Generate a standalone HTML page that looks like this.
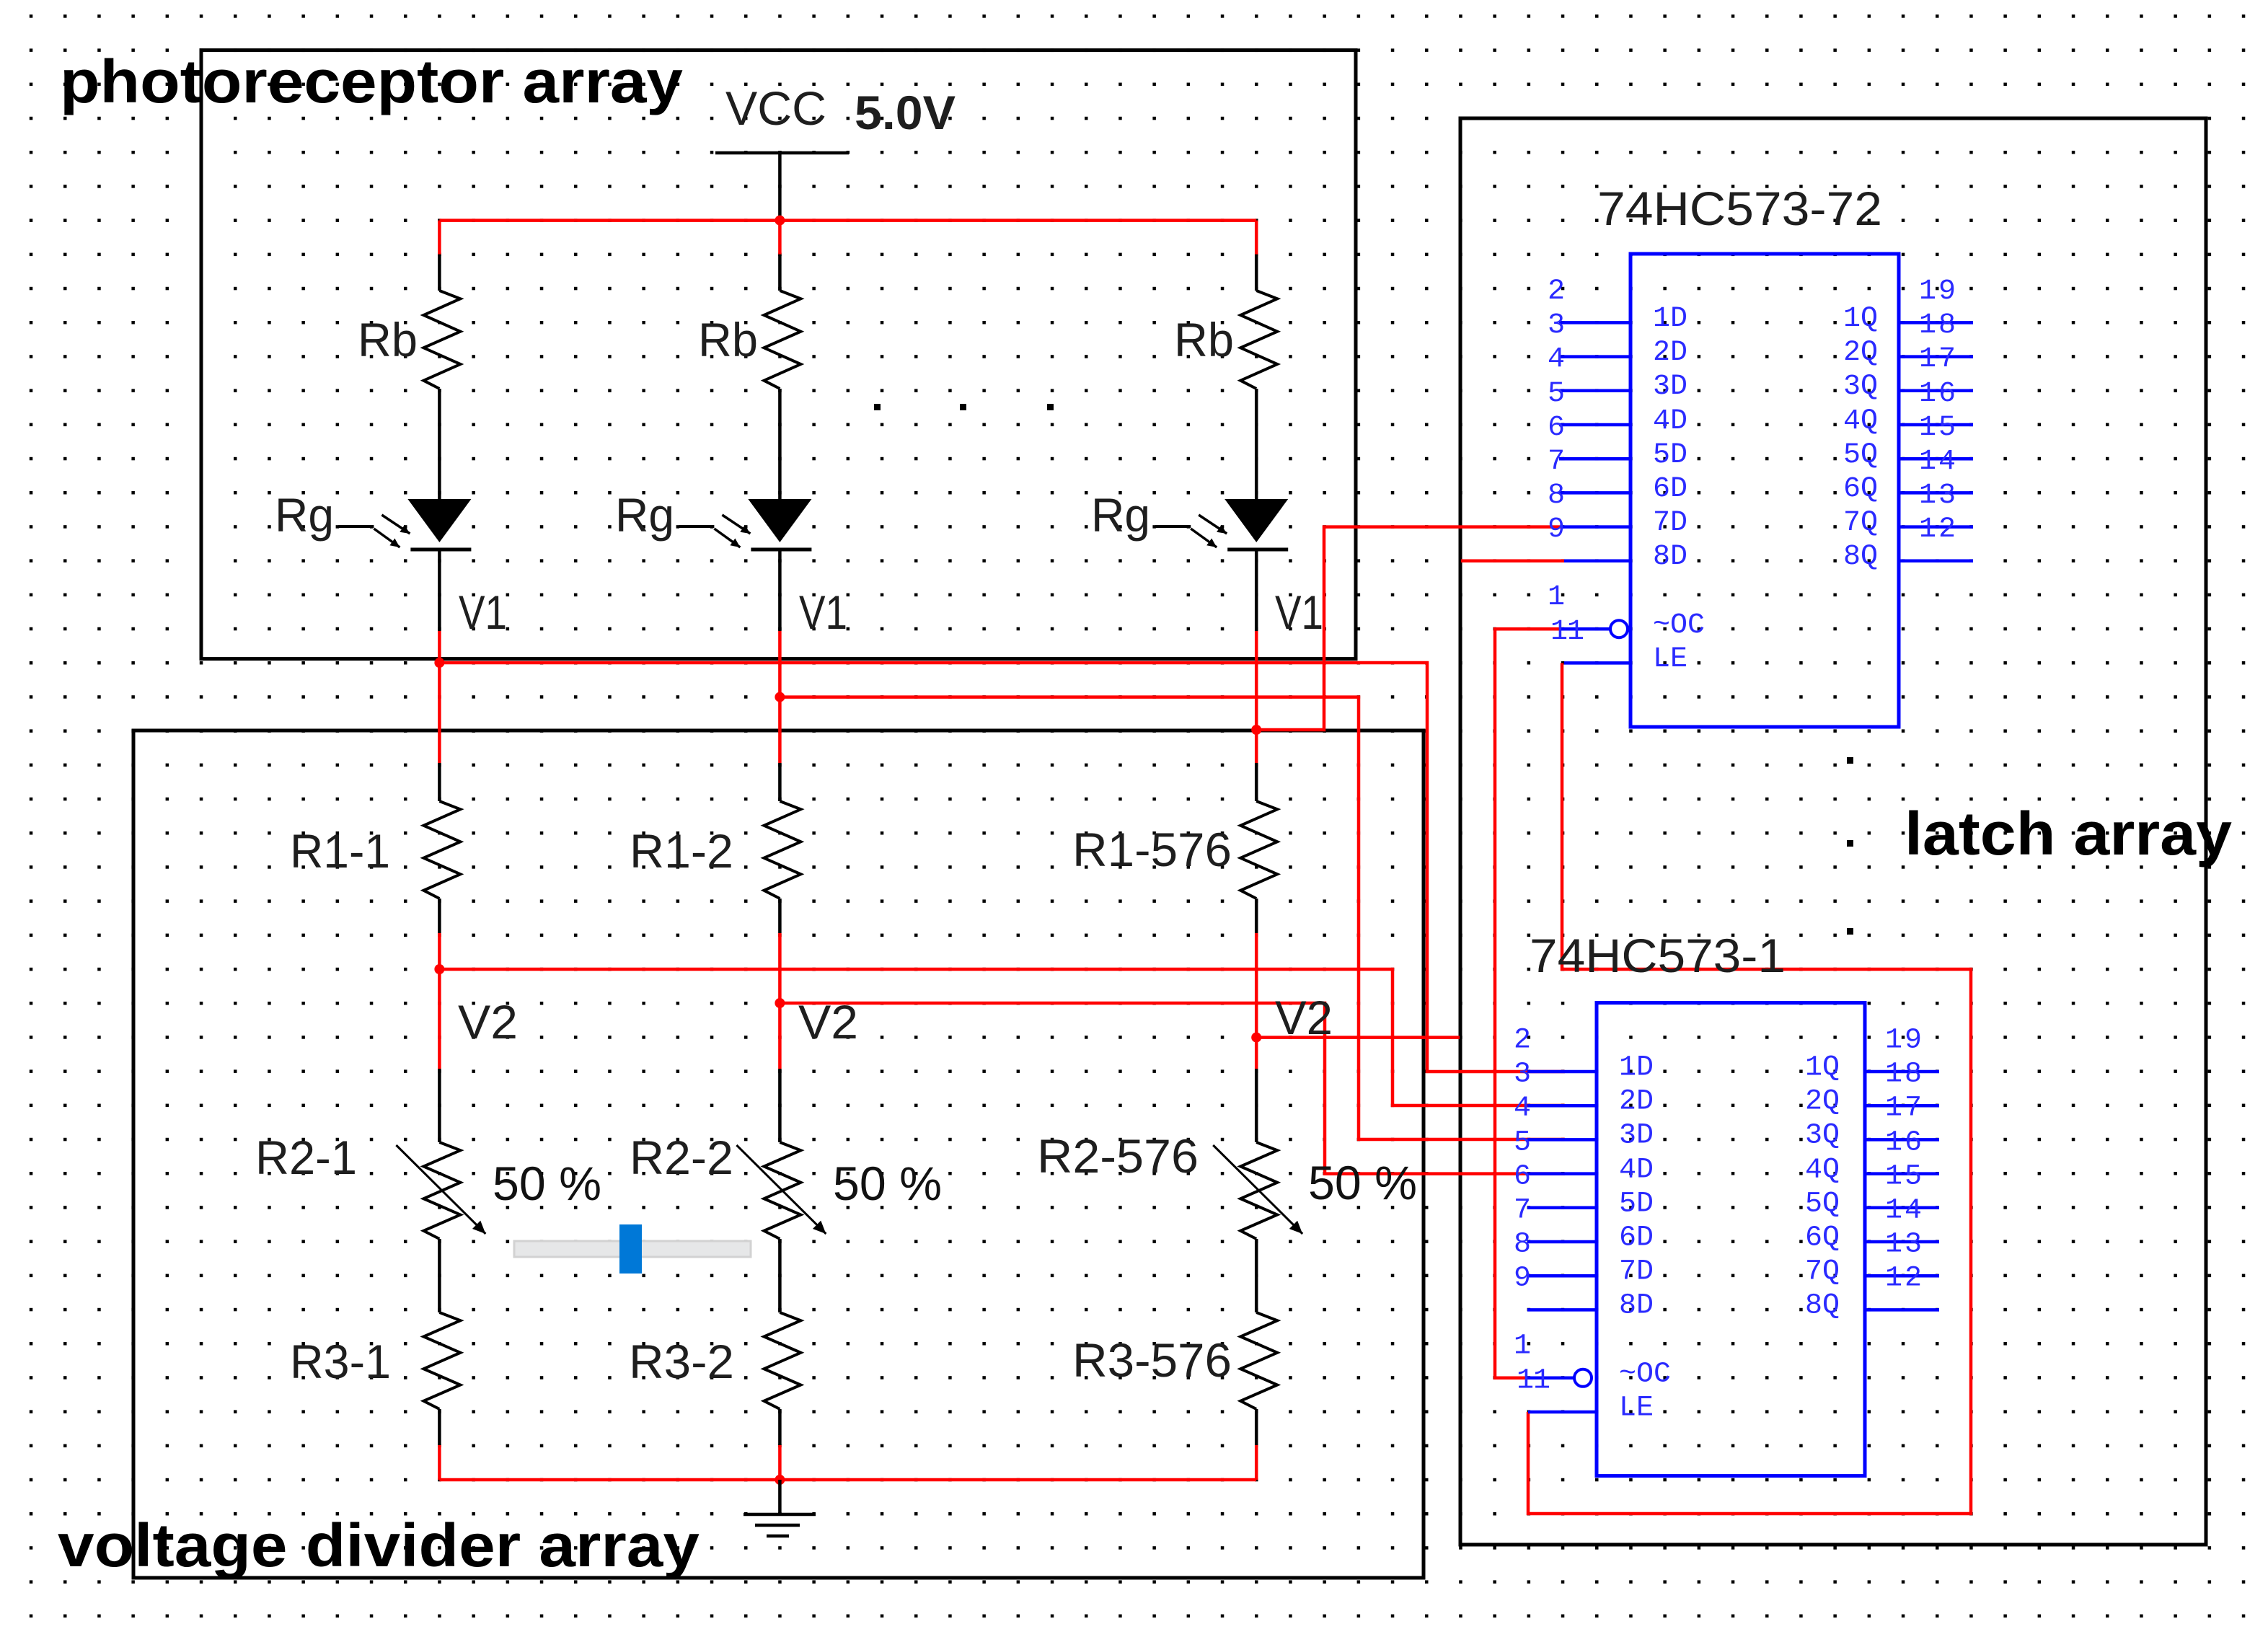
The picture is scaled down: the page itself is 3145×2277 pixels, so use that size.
<!DOCTYPE html>
<html><head><meta charset="utf-8"><style>
html,body{margin:0;padding:0;background:#fff;}
svg{display:block;}
.lab{font-family:"Liberation Sans",Arial,sans-serif;font-size:66px;fill:#1e1e1e;}
.ttl{font-family:"Liberation Sans",Arial,sans-serif;font-weight:bold;font-size:84px;fill:#000;}
.pin{font-family:"Liberation Mono",monospace;font-size:40px;fill:#2a2aff;}
</style></head><body>
<svg width="3145" height="2277" viewBox="0 0 3145 2277" xmlns="http://www.w3.org/2000/svg">
<defs>
<pattern id="grid" patternUnits="userSpaceOnUse" x="40.8" y="20.2" width="47.2" height="47.2">
<rect x="0" y="0" width="4.5" height="4.5" fill="#000"/>
</pattern>
<marker id="ah" markerUnits="userSpaceOnUse" markerWidth="22" markerHeight="22" refX="18" refY="8" orient="auto">
<path d="M0,0 L18,8 L0,16 z" fill="#000"/>
</marker>
<marker id="ah2" markerUnits="userSpaceOnUse" markerWidth="16" markerHeight="16" refX="13" refY="6" orient="auto">
<path d="M0,0 L13,6 L0,12 z" fill="#000"/>
</marker>
<g id="colblk" fill="none" stroke="#000" stroke-width="4.5">
<path d="M0 352.8 V403 M0 539 V692 M0 762 V875 M0 1058 V1111 M0 1246 V1294 M0 1482 V1584 M0 1718 V1820 M0 1954 V2004"/>
<path stroke-width="4" d="M0 403 L29 414.3 L-22 437 L29 459.7 L-22 482.3 L29 505 L-22 527.7 L0 539"/>
<path stroke-width="4" d="M0 1111 L29 1122.3 L-22 1144.8 L29 1167.3 L-22 1189.8 L29 1212.3 L-22 1234.8 L0 1246"/>
<path stroke-width="4" d="M0 1584 L29 1595.2 L-22 1617.5 L29 1639.8 L-22 1662.2 L29 1684.5 L-22 1706.8 L0 1718"/>
<path stroke-width="4" d="M0 1820 L29 1831.2 L-22 1853.5 L29 1875.8 L-22 1898.2 L29 1920.5 L-22 1942.8 L0 1954"/>
<path d="M-44 692 L44 692 L0 752 Z" fill="#000" stroke="none"/>
<path d="M-40 762 H44" stroke-width="5"/>
<path d="M-140 730 H-91" stroke-width="4"/>
<path d="M-80 714 L-41 740" stroke-width="3.5" marker-end="url(#ah2)"/>
<path d="M-91 733 L-55 759" stroke-width="3.5" marker-end="url(#ah2)"/>
<path d="M-60 1588 L64 1711" stroke-width="3" marker-end="url(#ah)"/>
</g>
<g id="colred" fill="none" stroke="#ff0000" stroke-width="4.5">
<path d="M0 305.6 V352.8 M0 875 V1058 M0 1294 V1482 M0 2004 V2052"/>
</g>
</defs>
<rect width="3145" height="2277" fill="#fff"/>
<rect width="3145" height="2277" fill="url(#grid)"/>

<!-- boxes -->
<g fill="none" stroke="#000" stroke-width="5">
<rect x="279" y="69.6" width="1601" height="844"/>
<rect x="185" y="1013" width="1789" height="1175"/>
<rect x="2025" y="164" width="1034" height="1978"/>
</g>

<!-- titles -->
<text class="ttl" x="83" y="142" textLength="864" lengthAdjust="spacingAndGlyphs">photoreceptor array</text>
<text class="ttl" x="80" y="2172" textLength="890" lengthAdjust="spacingAndGlyphs">voltage divider array</text>
<text class="ttl" x="2641" y="1185" textLength="454" lengthAdjust="spacingAndGlyphs">latch array</text>

<!-- VCC -->
<text class="lab" x="1006" y="173" font-size="68" textLength="140" lengthAdjust="spacingAndGlyphs">VCC</text>
<text class="lab" x="1185" y="179" font-size="68" font-weight="bold" textLength="140" lengthAdjust="spacingAndGlyphs">5.0V</text>
<path d="M992 212 H1177 M1081.4 212 V305.6" stroke="#000" stroke-width="4.5" fill="none"/>

<!-- red wires -->
<g fill="none" stroke="#ff0000" stroke-width="4.5">
<path d="M609.4 305.6 H1742.2"/>
<path d="M609.4 2052 H1742.2"/>
<path d="M609.4 919 H1979 V1486 H2170"/>
<path d="M1081.4 966.6 H1884 V1580 H2170"/>
<path d="M1742.2 1012 H1836 V730.6 H2166"/>
<path d="M2026 777.8 H2169"/>
<path d="M609.4 1344 H1931 V1533 H2170"/>
<path d="M1081.4 1391 H1837 V1627.6 H2170"/>
<path d="M1742.2 1438.6 H2024"/>
<path d="M2165 872.2 H2073 V1910.8 H2118"/>
<path d="M2166 919.4 V1344 H2733 V2099 H2119 V1958"/>
</g>

<!-- columns -->
<use href="#colred" x="609.4"/>
<use href="#colred" x="1081.4"/>
<use href="#colred" x="1742.2"/>
<use href="#colblk" x="609.4"/>
<use href="#colblk" x="1081.4"/>
<use href="#colblk" x="1742.2"/>

<!-- junction dots -->
<g fill="#ff0000">
<circle cx="1081.4" cy="305.6" r="7"/>
<circle cx="609.4" cy="919" r="7"/>
<circle cx="1081.4" cy="966.6" r="7"/>
<circle cx="1742.2" cy="1012" r="7"/>
<circle cx="609.4" cy="1344" r="7"/>
<circle cx="1081.4" cy="1391" r="7"/>
<circle cx="1742.2" cy="1438.6" r="7"/>
<circle cx="1081.4" cy="2052" r="7"/>
</g>

<!-- ground -->
<path d="M1081.4 2052 V2100 M1031 2100 H1131 M1047 2115 H1109 M1063 2130 H1094" stroke="#000" stroke-width="4.5" fill="none"/>

<!-- ellipsis dots -->
<g fill="#000">
<rect x="1212" y="560" width="9" height="9"/>
<rect x="1331" y="560" width="9" height="9"/>
<rect x="1452" y="560" width="9" height="9"/>
<rect x="2561" y="1050" width="9" height="9"/>
<rect x="2561" y="1165" width="9" height="9"/>
<rect x="2561" y="1287" width="9" height="9"/>
</g>

<!-- labels -->
<g class="lab">
<text x="496" y="494" textLength="83" lengthAdjust="spacingAndGlyphs">Rb</text>
<text x="968" y="494" textLength="83" lengthAdjust="spacingAndGlyphs">Rb</text>
<text x="1628" y="494" textLength="83" lengthAdjust="spacingAndGlyphs">Rb</text>
<text x="381" y="737" textLength="82" lengthAdjust="spacingAndGlyphs">Rg</text>
<text x="853" y="737" textLength="82" lengthAdjust="spacingAndGlyphs">Rg</text>
<text x="1513" y="737" textLength="82" lengthAdjust="spacingAndGlyphs">Rg</text>
<text x="636" y="872" textLength="67" lengthAdjust="spacingAndGlyphs">V1</text>
<text x="1108" y="872" textLength="67" lengthAdjust="spacingAndGlyphs">V1</text>
<text x="1768" y="872" textLength="67" lengthAdjust="spacingAndGlyphs">V1</text>
<text x="402" y="1203" textLength="139" lengthAdjust="spacingAndGlyphs">R1-1</text>
<text x="873" y="1203" textLength="144" lengthAdjust="spacingAndGlyphs">R1-2</text>
<text x="1487" y="1201" textLength="221" lengthAdjust="spacingAndGlyphs">R1-576</text>
<text x="635" y="1440" textLength="83" lengthAdjust="spacingAndGlyphs">V2</text>
<text x="1107" y="1440" textLength="83" lengthAdjust="spacingAndGlyphs">V2</text>
<text x="1768" y="1434" textLength="80" lengthAdjust="spacingAndGlyphs">V2</text>
<text x="354" y="1628" textLength="141" lengthAdjust="spacingAndGlyphs">R2-1</text>
<text x="873" y="1628" textLength="144" lengthAdjust="spacingAndGlyphs">R2-2</text>
<text x="1438" y="1626" textLength="224" lengthAdjust="spacingAndGlyphs">R2-576</text>
<text x="683" y="1664" textLength="151" lengthAdjust="spacingAndGlyphs" fill="#111">50 %</text>
<text x="1155" y="1664" textLength="151" lengthAdjust="spacingAndGlyphs" fill="#111">50 %</text>
<text x="1814" y="1663" textLength="151" lengthAdjust="spacingAndGlyphs" fill="#111">50 %</text>
<text x="402" y="1911" textLength="140" lengthAdjust="spacingAndGlyphs">R3-1</text>
<text x="872" y="1911" textLength="146" lengthAdjust="spacingAndGlyphs">R3-2</text>
<text x="1487" y="1909" textLength="221" lengthAdjust="spacingAndGlyphs">R3-576</text>
</g>

<!-- slider -->
<rect x="713" y="1721" width="328" height="22" fill="#e6e7e8" stroke="#d2d2d2" stroke-width="3"/>
<rect x="859" y="1698" width="31" height="68" fill="#0078d7"/>

<!-- chip titles -->
<text class="lab" x="2215" y="312" font-size="70" fill="#2a2a2a" textLength="395" lengthAdjust="spacingAndGlyphs">74HC573-72</text>
<text class="lab" x="2121" y="1348" font-size="70" fill="#2a2a2a" textLength="355" lengthAdjust="spacingAndGlyphs">74HC573-1</text>

<!-- chip top -->
<g id="chipA">
<rect x="2261" y="352" width="372" height="656" fill="none" stroke="#0000ff" stroke-width="5"/>
<g stroke="#0000ff" stroke-width="4.5" fill="none">
<path d="M2162 447.4 H2261 M2162 494.6 H2261 M2162 541.8 H2261 M2162 589 H2261 M2162 636.2 H2261 M2162 683.4 H2261 M2166 730.6 H2261 M2169 777.8 H2261"/>
<path d="M2633 447.4 H2736 M2633 494.6 H2736 M2633 541.8 H2736 M2633 589 H2736 M2633 636.2 H2736 M2633 683.4 H2736 M2633 730.6 H2736 M2633 777.8 H2736"/>
<path d="M2165 872.2 H2232 M2169 919.4 H2261"/>
<circle cx="2245" cy="872.2" r="12" fill="#fff" stroke-width="4"/>
</g>
<g class="pin">
<text x="2146" y="414">2</text>
<text x="2146" y="461">3</text>
<text x="2146" y="508">4</text>
<text x="2146" y="556">5</text>
<text x="2146" y="603">6</text>
<text x="2146" y="650">7</text>
<text x="2146" y="697">8</text>
<text x="2146" y="744">9</text>
<text x="2146" y="838">1</text>
<text x="2150" y="886" textLength="47">11</text>
<text x="2661" y="414" textLength="51">19</text>
<text x="2661" y="461" textLength="51">18</text>
<text x="2661" y="508" textLength="51">17</text>
<text x="2661" y="556" textLength="51">16</text>
<text x="2661" y="603" textLength="51">15</text>
<text x="2661" y="650" textLength="51">14</text>
<text x="2661" y="697" textLength="51">13</text>
<text x="2661" y="744" textLength="51">12</text>
<text x="2292" y="452">1D</text>
<text x="2292" y="499">2D</text>
<text x="2292" y="546">3D</text>
<text x="2292" y="594">4D</text>
<text x="2292" y="641">5D</text>
<text x="2292" y="688">6D</text>
<text x="2292" y="735">7D</text>
<text x="2292" y="782">8D</text>
<text x="2556" y="452">1Q</text>
<text x="2556" y="499">2Q</text>
<text x="2556" y="546">3Q</text>
<text x="2556" y="594">4Q</text>
<text x="2556" y="641">5Q</text>
<text x="2556" y="688">6Q</text>
<text x="2556" y="735">7Q</text>
<text x="2556" y="782">8Q</text>
<text x="2292" y="877">~OC</text>
<text x="2292" y="924">LE</text>
</g>
</g>

<!-- chip lower -->
<g transform="translate(-47,1038.6)">
<rect x="2261" y="352" width="372" height="656" fill="none" stroke="#0000ff" stroke-width="5"/>
<g stroke="#0000ff" stroke-width="4.5" fill="none">
<path d="M2165 447.4 H2261 M2165 494.6 H2261 M2165 541.8 H2261 M2165 589 H2261 M2165 636.2 H2261 M2165 683.4 H2261 M2165 730.6 H2261 M2165 777.8 H2261"/>
<path d="M2633 447.4 H2736 M2633 494.6 H2736 M2633 541.8 H2736 M2633 589 H2736 M2633 636.2 H2736 M2633 683.4 H2736 M2633 730.6 H2736 M2633 777.8 H2736"/>
<path d="M2165 872.2 H2229 M2166 919.4 H2261"/>
<circle cx="2242" cy="872.2" r="12" fill="#fff" stroke-width="4"/>
</g>
<g class="pin">
<text x="2146" y="414">2</text>
<text x="2146" y="461">3</text>
<text x="2146" y="508">4</text>
<text x="2146" y="556">5</text>
<text x="2146" y="603">6</text>
<text x="2146" y="650">7</text>
<text x="2146" y="697">8</text>
<text x="2146" y="744">9</text>
<text x="2146" y="838">1</text>
<text x="2150" y="886" textLength="47">11</text>
<text x="2661" y="414" textLength="51">19</text>
<text x="2661" y="461" textLength="51">18</text>
<text x="2661" y="508" textLength="51">17</text>
<text x="2661" y="556" textLength="51">16</text>
<text x="2661" y="603" textLength="51">15</text>
<text x="2661" y="650" textLength="51">14</text>
<text x="2661" y="697" textLength="51">13</text>
<text x="2661" y="744" textLength="51">12</text>
<text x="2292" y="452">1D</text>
<text x="2292" y="499">2D</text>
<text x="2292" y="546">3D</text>
<text x="2292" y="594">4D</text>
<text x="2292" y="641">5D</text>
<text x="2292" y="688">6D</text>
<text x="2292" y="735">7D</text>
<text x="2292" y="782">8D</text>
<text x="2550" y="452">1Q</text>
<text x="2550" y="499">2Q</text>
<text x="2550" y="546">3Q</text>
<text x="2550" y="594">4Q</text>
<text x="2550" y="641">5Q</text>
<text x="2550" y="688">6Q</text>
<text x="2550" y="735">7Q</text>
<text x="2550" y="782">8Q</text>
<text x="2292" y="877">~OC</text>
<text x="2292" y="924">LE</text>
</g>
</g>
</svg>
</body></html>
